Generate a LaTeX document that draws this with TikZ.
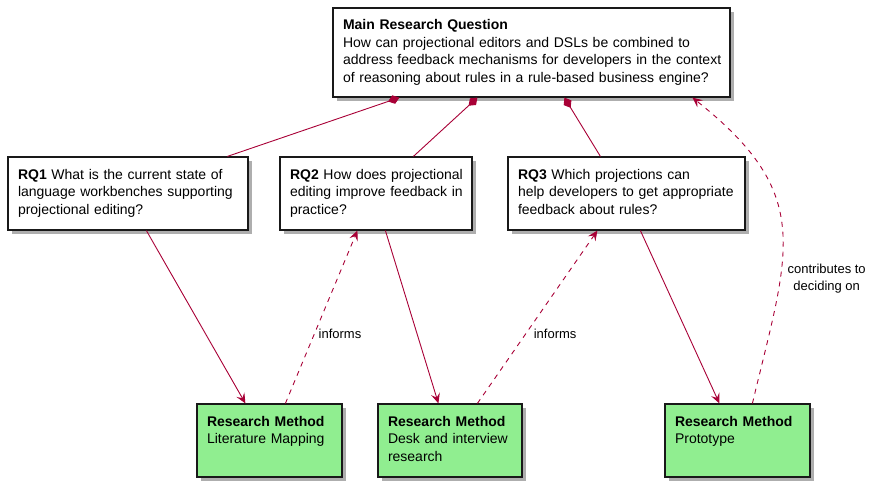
\documentclass[tikz,border=0pt]{standalone}
\usepackage{fontspec}
\setmainfont{Liberation Sans}
\usetikzlibrary{arrows.meta,shadows,calc}
\definecolor{plline}{HTML}{A80036}
\definecolor{plgreen}{HTML}{90EE90}
\newcommand{\plines}[1]{\begin{tabular}{@{}l@{}}#1\end{tabular}}
\tikzset{
  box/.style={draw=black!90, line width=1.2pt, fill=white, align=left,
    inner xsep=10pt, inner ysep=0pt,
    font=\fontsize{14}{17.4}\selectfont,
    drop shadow={shadow xshift=4pt, shadow yshift=-4pt, opacity=0.45, fill=black!70}},
  rmbox/.style={box, fill=plgreen},
  link/.style={draw=plline, line width=0.9pt},
  arr/.style={link, -{Stealth[length=10pt,width=9pt,inset=4pt]}},
  comp/.style={link, {Diamond[length=12pt,width=9pt]}-},
  dep/.style={arr, dash pattern=on 5pt off 5pt},
  lbl/.style={font=\fontsize{13}{17}\selectfont, inner sep=0pt}
}
\begin{document}
\begin{tikzpicture}[x=1pt,y=-1pt]
\useasboundingbox (0,0) rectangle (874,487);
\node[box, text width=377pt, minimum height=89pt] (main) at (531.5,52.5)
  {\plines{\textbf{Main Research Question}\\How can projectional editors and DSLs be combined to\\address feedback mechanisms for developers in the context\\of reasoning about rules in a rule-based business engine?}};
\node[box, text width=220pt, minimum height=73pt] (rq1) at (128,193.5)
  {\plines{\textbf{RQ1} What is the current state of\\language workbenches supporting\\projectional editing?}};
\node[box, text width=172pt, minimum height=73pt] (rq2) at (376,193.5)
  {\plines{\textbf{RQ2} How does projectional\\editing improve feedback in\\practice?}};
\node[box, text width=217pt, minimum height=73pt] (rq3) at (626.5,193.5)
  {\plines{\textbf{RQ3} Which projections can\\help developers to get appropriate\\feedback about rules?}};
\node[rmbox, text width=125pt, minimum height=73pt] (rm1) at (269.5,440.5)
  {\plines{\textbf{Research Method}\\Literature Mapping\\\mbox{}}};
\node[rmbox, text width=124pt, minimum height=73pt] (rm2) at (450,440.5)
  {\plines{\textbf{Research Method}\\Desk and interview\\research}};
\node[rmbox, text width=125pt, minimum height=73pt] (rm3) at (737.5,440.5)
  {\plines{\textbf{Research Method}\\Prototype\\\mbox{}}};
% composition links
\draw[comp] ([xshift=67pt]main.south west) -- ([xshift=220pt]rq1.north west);
\draw[comp] ([xshift=145pt]main.south west) -- ([xshift=134pt]rq2.north west);
\draw[comp] ([xshift=232pt]main.south west) -- ([xshift=93pt]rq3.north west);
% method arrows
\draw[arr] ([xshift=139pt]rq1.south west) -- ([xshift=49pt]rm1.north west);
\draw[arr] ([xshift=106pt]rq2.south west) -- ([xshift=61pt]rm2.north west);
\draw[arr] ([xshift=133pt]rq3.south west) -- ([xshift=55pt]rm3.north west);
% informs
\draw[dep] ([xshift=89pt]rm1.north west) -- node[lbl, pos=0.4, anchor=west, xshift=4pt] (inf1) {informs} ([xshift=78pt]rq2.south west);
\draw[dep] ([xshift=100pt]rm2.north west) -- node[lbl, pos=0.4, anchor=west, xshift=8pt] (inf2) {informs} ([xshift=90pt]rq3.south west);
% contributes
\draw[dep] ([xshift=88pt]rm3.north west) .. controls (789,250) and (815,195) .. node[lbl, pos=0.33, anchor=west, xshift=7pt, align=center] (contr) {contributes to\\deciding on} ([xshift=360pt]main.south west);
\end{tikzpicture}
\end{document}
